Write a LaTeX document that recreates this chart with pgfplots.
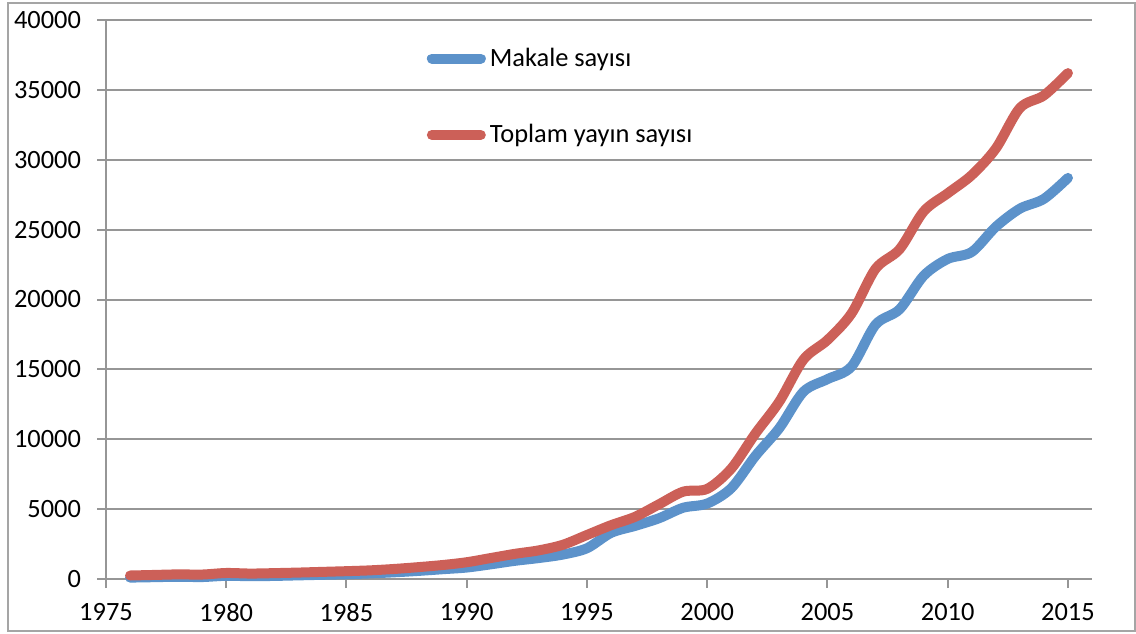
\documentclass[border=0pt]{standalone}
\usepackage{fontspec}
\setmainfont{Carlito}
\usepackage{pgfplots}
\pgfplotsset{compat=1.18}
\definecolor{cblue}{RGB}{92,146,202}
\definecolor{cred}{RGB}{204,96,88}
\definecolor{cgrid}{RGB}{150,150,150}
\definecolor{cframe}{RGB}{165,165,165}
\begin{document}
\begin{tikzpicture}
\useasboundingbox (0,0) rectangle (568pt,316.5pt);
\draw[cframe, line width=0.75pt] (4pt,1pt) rectangle (567.5pt,315pt);
\begin{axis}[
  at={(53pt,27pt)}, anchor=south west,
  scale only axis, width=493pt, height=279.5pt,
  xmin=1975, xmax=2016, ymin=0, ymax=40000,
  xtick={1975,1980,...,2015}, ytick={0,5000,...,40000},
  axis x line*=bottom, axis y line*=left,
  axis line style={-, cgrid, line width=1pt},
  tick style={cgrid, line width=1pt},
  major tick length=4.5pt, tick align=outside,
  ymajorgrids, major grid style={cgrid, line width=1pt},
  /pgf/number format/assume math mode=true,
  /pgf/number format/1000 sep={},
  scaled y ticks=false,
  tick label style={font=\fontsize{13.2}{15.5}\selectfont, text=black},
  xticklabel style={yshift=-4.3pt},
  yticklabel style={xshift=-4.5pt},
  clip=false,
  legend style={draw=none, fill=none, at={(0.325,0.958)}, anchor=north west,
    font=\fontsize{13.2}{15.5}\selectfont, row sep=23.5pt, inner sep=0pt,
    /tikz/every even column/.append style={column sep=0pt}},
  legend cell align=left,
  legend image code/.code={\draw[#1, line cap=round] (2.5pt,0pt) -- (27pt,0pt);},
]
\addplot[cblue, line width=5pt, smooth, tension=0.5, line cap=round, line join=round] coordinates {
(1976,100) (1977,130) (1978,160) (1979,140) (1980,230) (1981,200) (1982,220) (1983,260)
(1984,300) (1985,340) (1986,400) (1987,480) (1988,580) (1989,700) (1990,820) (1991,1050)
(1992,1300) (1993,1500) (1994,1750) (1995,2200) (1996,3300) (1997,3800) (1998,4350)
(1999,5100) (2000,5400) (2001,6500) (2002,8800) (2003,10800) (2004,13400) (2005,14300)
(2006,15200) (2007,18200) (2008,19300) (2009,21700) (2010,22900) (2011,23400)
(2012,25200) (2013,26500) (2014,27200) (2015,28700)};
\addlegendentry{Makale sayısı}
\addplot[cred, line width=5pt, smooth, tension=0.5, line cap=round, line join=round] coordinates {
(1976,250) (1977,290) (1978,330) (1979,320) (1980,430) (1981,390) (1982,420) (1983,460)
(1984,510) (1985,560) (1986,620) (1987,720) (1988,850) (1989,1000) (1990,1200) (1991,1500)
(1992,1800) (1993,2050) (1994,2450) (1995,3150) (1996,3850) (1997,4450) (1998,5350)
(1999,6250) (2000,6450) (2001,7900) (2002,10400) (2003,12700) (2004,15700) (2005,17100)
(2006,19000) (2007,22200) (2008,23600) (2009,26300) (2010,27600) (2011,28900)
(2012,30800) (2013,33700) (2014,34600) (2015,36200)};
\addlegendentry{Toplam yayın sayısı}
\end{axis}
\end{tikzpicture}
\end{document}
